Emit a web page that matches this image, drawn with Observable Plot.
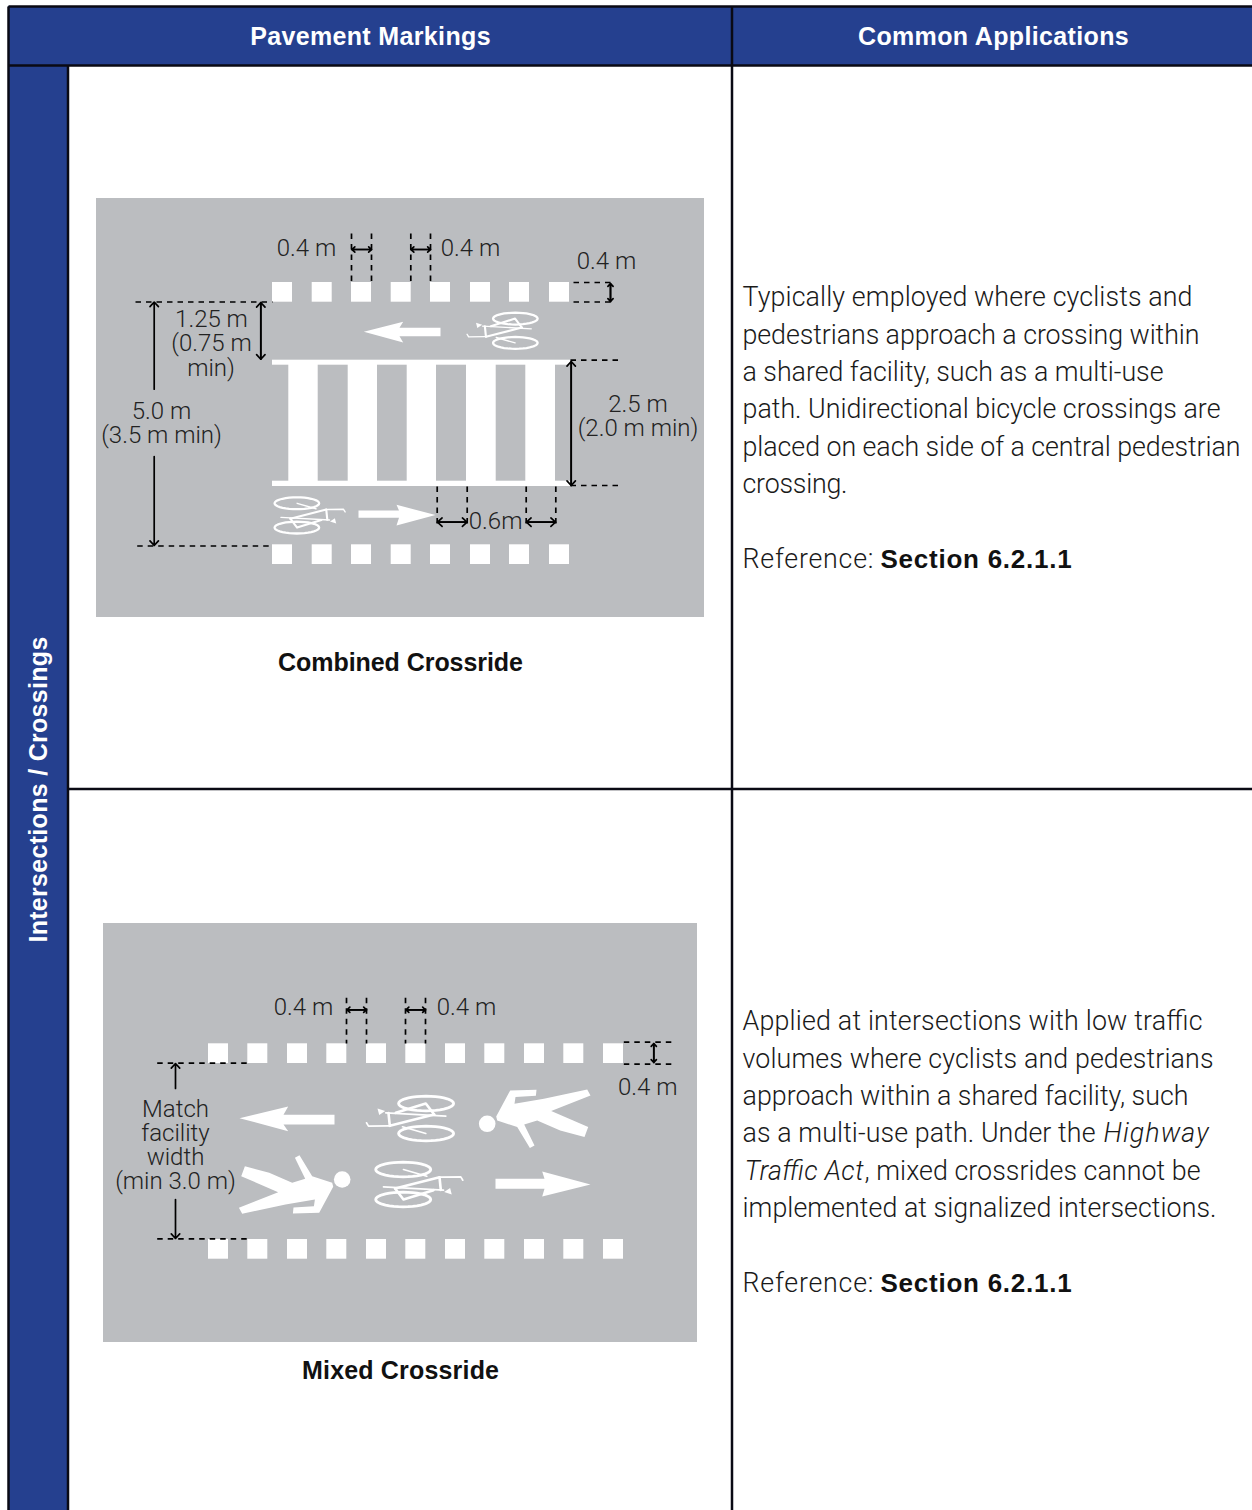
<!DOCTYPE html>
<html>
<head>
<meta charset="utf-8">
<script src="https://cdn.jsdelivr.net/npm/d3@7"></script>
<script src="https://cdn.jsdelivr.net/npm/@observablehq/plot@0.6"></script>
<style>
html,body{margin:0;padding:0;background:#fff;overflow:hidden}
svg{display:block}
</style>
</head>
<body>
<div id="chart"></div>
<script>
const BLUE = "#25408f", GREY = "#bbbdc0", INK = "#222";
const LIGHT = "Roboto, 'Liberation Sans', sans-serif";
const BOLD = "'Liberation Sans', Arial, sans-serif";

// table structure
const tableFills = [[8,6,1252,65,BLUE],[8,65,68,1510,BLUE],[96,198,704,617,GREY],[103,923,697,1342,GREY]];
const tableLines = [[8,6,1252,6],[8,6,8,1510],[8,65,1252,65],[67.5,65,67.5,1510],[731.5,6,731.5,1510],[68,788.5,1252,788.5]];

// pavement markings
const combinedSquareX = [272,311.7,351,390.7,430,470,509,549];
const combinedSquareY = [282,544.3];
const mixedSquareX = [208,247.3,287,326.3,366,405.3,445,484.3,524,563.3,603];
const mixedSquareY = [1043.3,1239];
const crossBands = [[272,359.7,570,364.7],[272,480.7,570,486]];
const crossBars = [[288.3,317.7],[347.7,377],[406.7,436],[466,495.7],[525.3,555]];
const crossBarY = [364,481];

// white direction arrows
const whiteArrows = [
  [[363.3,331.3],[402.7,321.3],[399,327.3],[440,327.3],[440,335.7],[399,335.7],[402.7,342]],
  [[358,510],[398.5,510],[396,504.3],[435,514.5],[396,525],[398.5,517.3],[358,517.3]],
  [[239,1117.7],[287.7,1106],[283,1114.3],[334,1114.3],[334,1124],[283,1124],[287.7,1130.7]],
  [[495,1178.3],[544,1178.3],[541.7,1171],[590,1184],[541.7,1196],[544,1188.3],[495,1188.3]]
];

// bicycle glyph (offsets from the glyph centre)
const bikeWheels = [[15.6,-15.3,27.5,7.3],[15.6,14.7,27.5,7.3]];
const bikeTubes = [
  [[-22,-5.7],[-20.7,7]],
  [[-20.7,7],[23.7,-4.3]],
  [[-14.7,-6],[15.3,-15.3],[23.7,-4.3]]
];
const bikeThin = [
  [[-44,4],[-42,7.3],[-22,7]],
  [[-24.7,-6],[35.3,-2.7]],
  [[-8,8],[15.3,14.7]]
];
const bikeSaddle = [[-33,-10.3],[-25.3,-7.7],[-31.3,-3.7]];
const bikePlacements = [[502.2,330.5,.81,1],[309,514.7,.81,-1],[410,1118.3,1,1],[418.3,1183.7,1,-1]];

// pedestrian glyph (offsets from the head)
const pedBody = [[9,-7.3],[23,-33.3],[49.3,-34],[48.7,-28],[28.3,-26.7],[27.3,-20],[56.7,-25],[100,-34.3],[103.3,-28.3],[64,-12.7],[101,3.3],[97.3,13.3],[73,6.7],[50,-3.3],[37,0.7],[47.3,21.7],[42.7,24.3],[30,3.3],[10,-3.3]];
const pedHeadR = 8.3;
const pedPlacements = [[486.7,1123.3,1],[341.7,1179,-1]];

// dimension lines
const dashed = [
  [351,233,351,282],[371,233,371,282],[410.3,233,410.3,282],[430,233,430,282],
  [135,301.5,272,301.5],[136.7,545.5,272,545.5],
  [573,282,610,282],[573,301.5,610,301.5],
  [570,359.7,621,359.7],[570,485,621,485],
  [436.7,486,436.7,525],[466.7,486,466.7,525],[525.7,486,525.7,525],[555.3,486,555.3,525],
  [346,997.3,346,1043],[366,997.3,366,1043],[405,997.3,405,1043],[425,997.3,425,1043],
  [156.7,1062.7,250,1062.7],[156.7,1238.3,250,1238.3],
  [623.3,1041.7,674,1041.7],[623.3,1063.7,674,1063.7]
];
const singleArrows = [[153.7,388.7,153.7,301.5],[153.7,456,153.7,545],[175,1088,175,1063],[175,1199,175,1238]];
const doubleArrows = [
  [260.3,302,260.3,358.7],[570.7,361,570.7,485],
  [437,521.7,466.5,521.7],[526,521.7,555,521.7]
];
const smallDoubleArrows = [
  [351.5,249,371,249],[410.5,249,430,249],[610,283,610,301],
  [346.5,1009.3,366,1009.3],[405.5,1009.3,425,1009.3],[653.3,1043,653.3,1062]
];

// text
const dimLabelsStart = [
  ["0.4 m",276.3,255],["0.4 m",440.3,255],["0.4 m",576.3,268],["0.6m",468.3,528],
  ["0.4 m",273.3,1014],["0.4 m",436.3,1014],["0.4 m",617.5,1094]
];
const dimLabelsCentre = [
  ["1.25 m",211,326.5],["(0.75 m",211,350.5],["min)",210.5,375.5],
  ["5.0 m",161,418.5],["(3.5 m min)",161,442.5],
  ["2.5 m",637.5,411.5],["(2.0 m min)",637.5,435.5],
  ["Match",175,1116.5],["facility",175,1140.5],["width",175,1164.5],["(min 3.0 m)",175,1188.5]
];
const bodyLines = [
  ["Typically employed where cyclists and",742,305.7],
  ["pedestrians approach a crossing within",742,343.7],
  ["a shared facility, such as a multi-use",742,380.7],
  ["path. Unidirectional bicycle crossings are",742,417.7],
  ["placed on each side of a central pedestrian",742,455.7],
  ["crossing.",742,492.7],
  ["Reference:",742,567.7],
  ["Applied at intersections with low traffic",742,1029.7],
  ["volumes where cyclists and pedestrians",742,1067.7],
  ["approach within a shared facility, such",742,1104.7],
  ["as a multi-use path. Under the",742,1141.7],
  [", mixed crossrides cannot be",864,1179.7],
  ["implemented at signalized intersections.",742,1216.7],
  ["Reference:",742,1291.7]
];
const bodyWidths = [450,457,421,478,498,105,131,460,471,446,353,336,474,131];
const italicBits = [["Highway",1103,1141.7],["Traffic Act",744,1179.7]];
const italicWidths = [105,119];
const sectionRefs = [["Section 6.2.1.1",880,567],["Section 6.2.1.1",880,1291]];
const captions = [["Combined Crossride",400,670],["Mixed Crossride",400,1378]];
const captionWidths = [245,197];
const headers = [["Pavement Markings",370,44],["Common Applications",993,44]];
const sideLabel = ["Intersections / Crossings",38,789];

// glyph outlines become point lists for Plot.line
const ell = (cx,cy,rx,ry) => d3.range(0,37).map(i => [cx+rx*Math.cos(i*Math.PI/18), cy+ry*Math.sin(i*Math.PI/18)]);
const place = (groups,prefix) => bikePlacements.flatMap(([cx,cy,k,s],n) =>
  groups.flatMap((pts,i) => pts.map(([x,y]) => ({x:cx+s*k*x, y:cy+s*k*y, id:prefix+n+"-"+i, k}))));
const wheelPoints = place(bikeWheels.map(([x,y,rx,ry]) => ell(x,y,rx,ry)),"w");
const tubePoints = place(bikeTubes,"t");
const thinPoints = place(bikeThin,"h");
const saddlePoints = place([bikeSaddle],"s");
const pedPoints = pedPlacements.flatMap(([hx,hy,s],n) => pedBody.map(([x,y]) => ({x:hx+s*x,y:hy+s*y,id:n})));
const pedHeads = pedPlacements.map(([hx,hy]) => ({x:hx,y:hy}));
const whitePoints = whiteArrows.flatMap((a,n) => a.map(([x,y]) => ({x,y,id:n})));
const squares = [
  ...combinedSquareY.flatMap(y => combinedSquareX.map(x => [x,y])),
  ...mixedSquareY.flatMap(y => mixedSquareX.map(x => [x,y]))
];
const both = rows => rows.flatMap(([a,b,c,d]) => [[a,b,c,d],[c,d,a,b]]);
const link = (rows,o) => Plot.link(rows,{x1:d=>d[0],y1:d=>d[1],x2:d=>d[2],y2:d=>d[3],...o});
const arr = (rows,o) => Plot.arrow(rows,{x1:d=>d[0],y1:d=>d[1],x2:d=>d[2],y2:d=>d[3],stroke:"#000",strokeWidth:1.7,bend:0,headAngle:85,...o});
const txt = (rows,o) => Plot.text(rows,{text:d=>d[0],x:d=>d[1],y:d=>d[2],lineAnchor:"bottom",...o});
const spaced = (sp) => (i,s,v,d,c,next) => { const g = next(i,s,v,d,c); g.setAttribute("letter-spacing",sp); return g; };
const fit = widths => (i,s,v,d,c,next) => {
  const g = next(i,s,v,d,c);
  g.querySelectorAll("text").forEach((t,k) => t.setAttribute("textLength",widths[k]));
  return g;
};
const dimStyle = {fontFamily:LIGHT,fontWeight:300,fontSize:24,fill:INK};
const bodyStyle = {textAnchor:"start",fontFamily:LIGHT,fontWeight:300,fontSize:26.8,fill:"#1a1a1a"};

const chart = Plot.plot({
  width:1252, height:1510, margin:0,
  x:{type:"linear",domain:[0,1252],range:[0,1252],axis:null},
  y:{type:"linear",domain:[0,1510],range:[0,1510],axis:null},
  style:{background:"#fff"},
  marks:[
    Plot.rect(tableFills,{x1:d=>d[0],y1:d=>d[1],x2:d=>d[2],y2:d=>d[3],fill:d=>d[4]}),
    link(tableLines,{stroke:"#0a0a14",strokeWidth:2.5}),
    Plot.rect(squares,{x1:d=>d[0],x2:d=>d[0]+20,y1:d=>d[1],y2:d=>d[1]+19.7,fill:"#fff"}),
    Plot.rect(crossBands,{x1:d=>d[0],y1:d=>d[1],x2:d=>d[2],y2:d=>d[3],fill:"#fff"}),
    Plot.rect(crossBars,{x1:d=>d[0],x2:d=>d[1],y1:crossBarY[0],y2:crossBarY[1],fill:"#fff"}),
    Plot.line(whitePoints,{x:"x",y:"y",z:"id",fill:"#fff",stroke:"none",curve:"linear"}),
    Plot.line(pedPoints,{x:"x",y:"y",z:"id",fill:"#fff",stroke:"none",curve:"linear"}),
    Plot.dot(pedHeads,{x:"x",y:"y",r:pedHeadR,fill:"#fff"}),
    Plot.line(wheelPoints,{x:"x",y:"y",z:"id",stroke:"#fff",strokeWidth:d=>2.8*d.k,fill:"none",curve:"linear"}),
    Plot.line(tubePoints,{x:"x",y:"y",z:"id",stroke:"#fff",strokeWidth:d=>2.6*d.k,fill:"none",curve:"linear"}),
    Plot.line(thinPoints,{x:"x",y:"y",z:"id",stroke:"#fff",strokeWidth:d=>1.7*d.k,fill:"none",curve:"linear"}),
    Plot.line(saddlePoints,{x:"x",y:"y",z:"id",fill:"#fff",stroke:"none",curve:"linear"}),
    link(dashed,{stroke:"#000",strokeWidth:1.7,strokeDasharray:"5.5,5"}),
    arr([...singleArrows,...both(doubleArrows)],{headLength:5.5}),
    arr(both(smallDoubleArrows),{headLength:3.4}),
    txt(dimLabelsStart,{textAnchor:"start",...dimStyle}),
    txt(dimLabelsCentre,{textAnchor:"middle",...dimStyle}),
    txt(bodyLines,{...bodyStyle,render:fit(bodyWidths)}),
    txt(italicBits,{...bodyStyle,fontStyle:"italic",render:fit(italicWidths)}),
    txt(sectionRefs,{textAnchor:"start",fontFamily:BOLD,fontWeight:700,fontSize:26,fill:"#111",render:spaced("0.75")}),
    txt(captions,{textAnchor:"middle",fontFamily:BOLD,fontWeight:700,fontSize:25,fill:"#111",render:fit(captionWidths)}),
    txt(headers,{textAnchor:"middle",fontFamily:BOLD,fontWeight:700,fontSize:25,fill:"#fff",render:spaced("0.35")}),
    Plot.text([sideLabel],{text:d=>d[0],x:d=>d[1],y:d=>d[2],rotate:-90,textAnchor:"middle",lineAnchor:"middle",fontFamily:BOLD,fontWeight:700,fontSize:25,fill:"#fff",render:spaced("0.3")})
  ]
});
document.getElementById("chart").append(chart);
</script>
</body>
</html>
